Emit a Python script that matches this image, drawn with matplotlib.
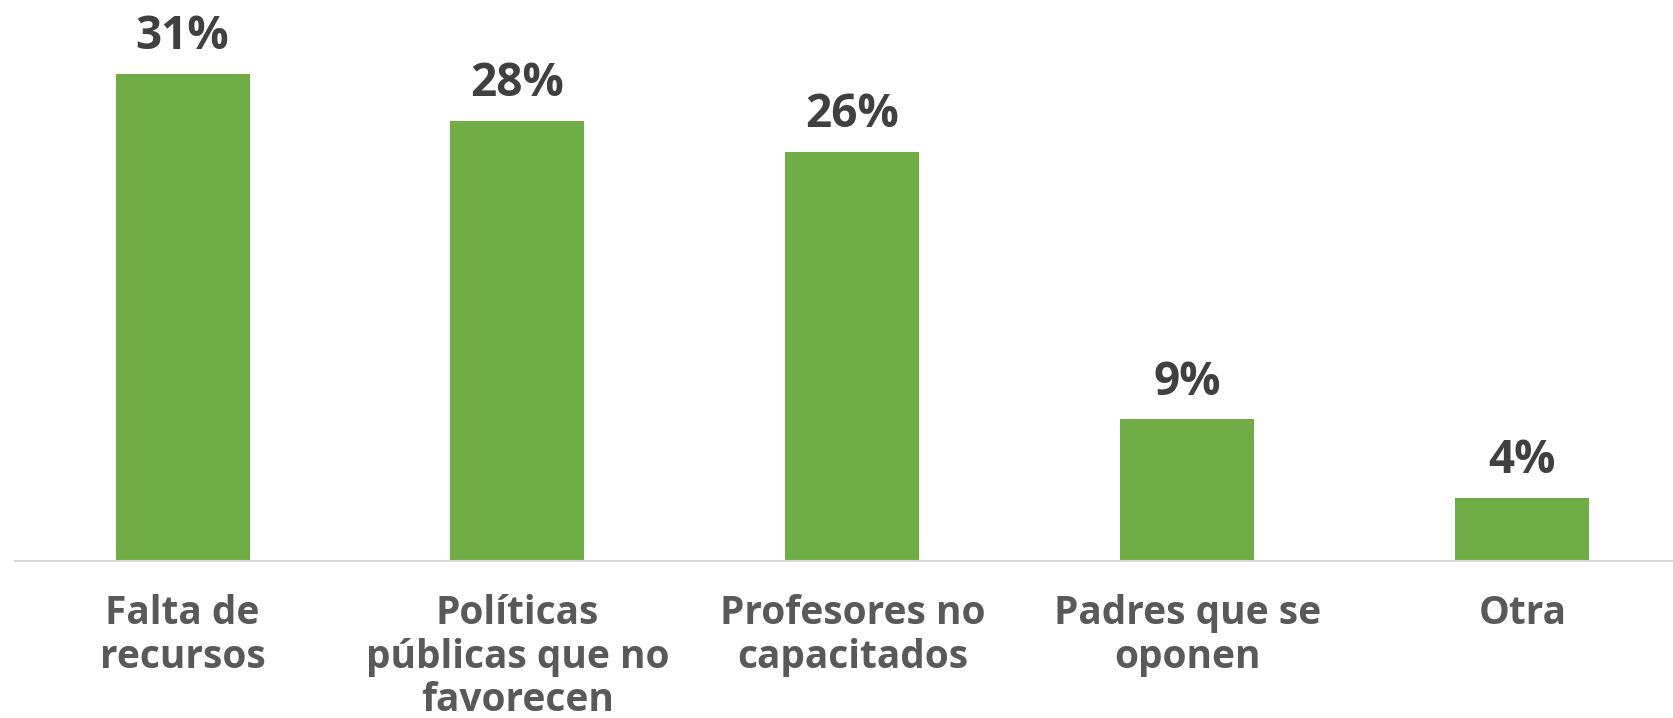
import matplotlib
matplotlib.use("Agg")
import matplotlib.pyplot as plt

categories = ["Falta de\nrecursos", "Políticas\npúblicas que no\nfavorecen",
              "Profesores no\ncapacitados", "Padres que se\noponen", "Otra"]
values = [31, 28, 26, 9, 4]
value_labels = ["31%", "28%", "26%", "9%", "4%"]

plt.rcParams['font.family'] = ['Open Sans', 'DejaVu Sans']

fig = plt.figure(figsize=(16.73, 7.18), dpi=100)
ax = fig.add_axes([0.009, 0.219, 0.991, 0.781])
x = list(range(len(values)))
ax.bar(x, values, width=0.4, color="#70AD47", zorder=2)
ax.set_xlim(-0.5, 4.45)
ax.set_ylim(0, 35.7)
for xi, v, lab in zip(x, values, value_labels):
    ax.annotate(lab, (xi, v), xytext=(0, 10), textcoords="offset points",
                ha="center", va="bottom", fontsize=33, fontweight="bold",
                color="#404040")
for s in ["top", "right", "left"]:
    ax.spines[s].set_visible(False)
ax.spines["bottom"].set_color("#D9D9D9")
ax.spines["bottom"].set_linewidth(1.5)
ax.set_yticks([])
ax.set_xticks(x)
ax.set_xticklabels(categories, fontsize=28, fontweight="bold", color="#595959",
                   linespacing=1.15, va="top")
ax.tick_params(axis="x", length=0, pad=24)
fig.savefig("out.png", dpi=100)
